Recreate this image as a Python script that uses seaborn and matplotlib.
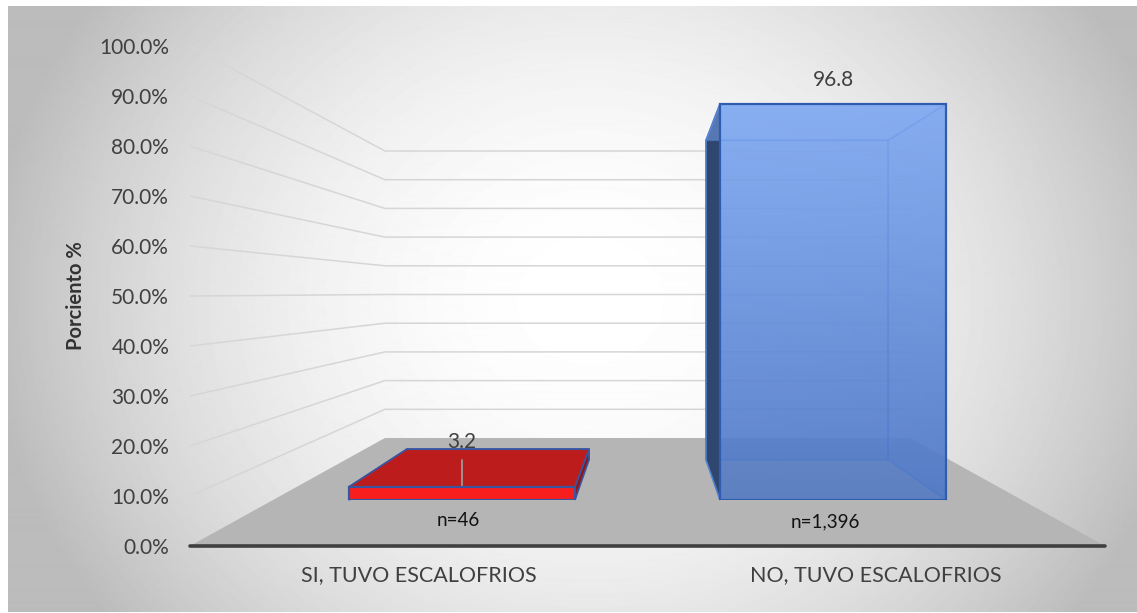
import numpy as np
import pandas as pd
import matplotlib
matplotlib.use("Agg")
import matplotlib.pyplot as plt
import seaborn as sns
from matplotlib.patches import Polygon

categories = ["SI, TUVO ESCALOFRIOS", "NO, TUVO ESCALOFRIOS"]
percent = [3.2, 96.8]
counts = ["n=46", "n=1,396"]
y_ticks = [0, 10, 20, 30, 40, 50, 60, 70, 80, 90, 100]

sns.set_theme(style="white")
plt.rcParams["font.family"] = ["Lato", "DejaVu Sans"]

W, H = 1137, 613
fig = plt.figure(figsize=(W / 100, H / 100), dpi=100, facecolor="white")


def box(x0, y0, x1, y1):
    return [x0 / W, 1 - y1 / H, (x1 - x0) / W, (y1 - y0) / H]


# Background: radial grey panel
bg = fig.add_axes(box(8, 6, W, H - 1), zorder=0)
yy, xx = np.mgrid[6:H, 8:W]
r2 = ((xx - 590) / 640) ** 2 + ((yy - 300) / 560) ** 2
shade = np.clip(255 - 76 * r2, 188, 255) / 255
bg.imshow(shade, cmap="gray", vmin=0, vmax=1, aspect="auto")
bg.axis("off")

# Main axes: the front plane of the 3-D box
ax = fig.add_axes(box(190, 46, 1105, 546), zorder=1)
ax.patch.set_alpha(0)
ax.set_xlim(-0.5, 1.5)
ax.set_ylim(0, 100)
VX, VY = 0.5, 50.7


def proj(x, v, s):
    """Perspective: shrink toward the vanishing point by factor s."""
    return VX + (x - VX) * s, VY + (v - VY) * s


S_BACK, S_FRONT, S_REAR = 0.574, 0.8185, 0.66
GRID = "#d6d6d6"

# Floor
ax.add_patch(Polygon([proj(-0.5, 0, 1), proj(1.5, 0, 1), proj(1.5, 0, S_BACK), proj(-0.5, 0, S_BACK)],
                     fc="#b5b5b5", ec="none", zorder=1))
# Walls' gridlines
for t in y_ticks[1:]:
    a, b, c = proj(-0.5, t, 1), proj(-0.5, t, S_BACK), proj(1.5, t, S_BACK)
    ax.plot([a[0], b[0], c[0]], [a[1], b[1], c[1]], color=GRID, lw=1.1, zorder=0.5)

# Faces of the bars behind the front one
half = 0.3018
cx = [VX - 0.4955, VX + 0.4955]
edge = "#2f5cae"
styles = [
    dict(rear="#b81c1c", left="#a81818", right="#8f1616", top="#bd1c1c", alpha=1, ec="#3a55a0"),
    dict(rear="#6f98e0", left="#2f466e", right="#6f98e0", top="#78a0ea", alpha=0.55, ec="#4f7fd0"),
]
for c, v, st in zip(cx, percent, styles):
    l, h = c - half, c + half
    faces = [
        ("rear", [proj(l, 0, S_REAR), proj(h, 0, S_REAR), proj(h, v, S_REAR), proj(l, v, S_REAR)]),
        ("left", [proj(l, 0, S_FRONT), proj(l, 0, S_REAR), proj(l, v, S_REAR), proj(l, v, S_FRONT)]),
        ("right", [proj(h, 0, S_FRONT), proj(h, 0, S_REAR), proj(h, v, S_REAR), proj(h, v, S_FRONT)]),
        ("top", [proj(l, v, S_FRONT), proj(h, v, S_FRONT), proj(h, v, S_REAR), proj(l, v, S_REAR)]),
    ]
    for name, pts in faces:
        a = 1 if name == "left" else st["alpha"]
        ax.add_patch(Polygon(pts, fc=st[name], ec=st["ec"], lw=1.2, alpha=a, zorder=2))

ax.set_xticks([0, 1], categories)
ax.set_yticks(y_ticks, [f"{t:.1f}%" for t in y_ticks])
ax.tick_params(axis="y", length=0, pad=15, labelsize=15, labelcolor="#404040")
ax.tick_params(axis="x", length=0, pad=14, labelsize=15.5, labelcolor="#404040")
for side in ["left", "right", "top"]:
    ax.spines[side].set_visible(False)
ax.spines["bottom"].set_color("#404040")
ax.spines["bottom"].set_linewidth(2.6)
ax.spines["bottom"].set_capstyle("round")
ax.set_ylabel("Porciento %", fontsize=14.5, fontweight="bold", color="#333333")
ax.yaxis.set_label_coords((86 - 190) / 915, 0.5)

# Front faces: seaborn bars on a plane scaled to the front of the bars
front = fig.add_axes(box(647.5 - 374.5, 500 - 409.3, 647.5 + 374.5, 500), zorder=2)
front.patch.set_alpha(0)
df = pd.DataFrame({"cat": categories, "pct": percent})
sns.barplot(data=df, x="cat", y="pct", hue="cat", palette=["#f81e1e", "#6f9be8"],
            width=0.609, saturation=1, legend=False, ax=front)
front.set_xlim(-0.5095, 1.5095)
front.set_ylim(0, 100)
front.axis("off")

bars = front.patches
for b, e in zip(bars, ["#3a55a0", edge]):
    b.set_edgecolor(e)
    b.set_linewidth(1.6)

# Vertical gradient + transparency on the blue bar
blue = bars[1]
x0, w, h0 = blue.get_x(), blue.get_width(), blue.get_height()
n = 256
t = np.linspace(0, 1, n)[:, None]
top_c, bot_c = np.array([128, 170, 245]) / 255, np.array([72, 115, 195]) / 255
grad = np.zeros((n, 2, 4))
grad[..., :3] = (top_c * (1 - t) + bot_c * t)[:, None, :]
grad[..., 3] = 0.8
blue.set_facecolor("none")
im = front.imshow(grad, extent=[x0, x0 + w, 0, h0], aspect="auto", zorder=1.5)
im.set_clip_path(blue)
blue.set_zorder(2)
front.set_xlim(-0.5095, 1.5095)
front.set_ylim(0, 100)

# Data labels
label_x = proj(cx[0], 0, S_FRONT)[0]
top_rear = proj(cx[0], percent[0], S_REAR)[1]
ax.plot([label_x, label_x], [proj(cx[0], percent[0], S_FRONT)[1], top_rear - 2.2],
        color="#9a9a9a", lw=1.3, zorder=3)
ax.text(label_x, top_rear + 1.4, f"{percent[0]}",
        ha="center", va="center", fontsize=15, color="#404040", zorder=4)
ax.text((833 - 190) / 457.5 - 0.5, (546 - 80) / 5, f"{percent[1]}",
        ha="center", va="center", fontsize=15, color="#404040", zorder=4)

# Sample sizes
ax.text((458 - 190) / 457.5 - 0.5, (546 - 520) / 5, counts[0], ha="center", va="center",
        fontsize=13.5, color="#111111", zorder=4)
ax.text((825 - 190) / 457.5 - 0.5, (546 - 522) / 5, counts[1], ha="center", va="center",
        fontsize=13.5, color="#111111", zorder=4)

fig.savefig("out.png", dpi=100)
